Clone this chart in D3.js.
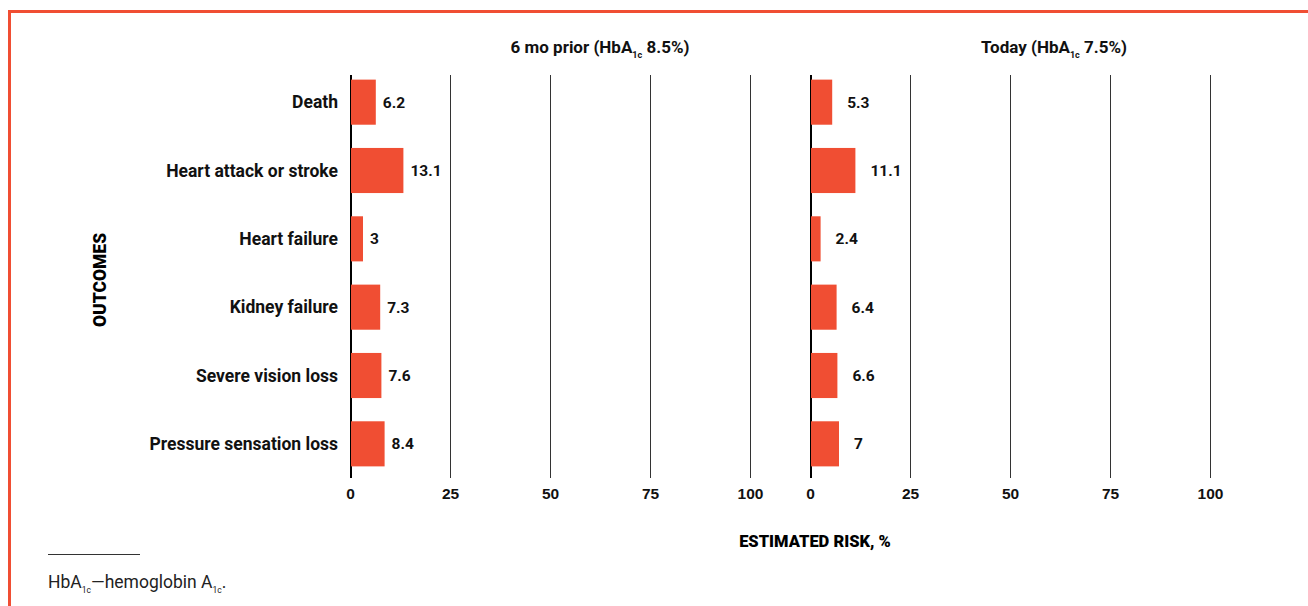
<!DOCTYPE html>
<html>
<head>
<meta charset="UTF-8">
<title>Estimated risk</title>
<style>
    body { margin: 0; background: #fff; }
    svg { display: block; font-family: Roboto, "Open Sans", sans-serif; }
    .grid line { stroke: #333; stroke-width: 1.5px; shape-rendering: crispEdges; }
    .grid .domain { display: none; }
    .grid text { font-size: 15.5px; font-weight: 700; fill: #111; }
    .cat { font-size: 17.5px; font-weight: 700; fill: #111; }
    .val { font-size: 15.5px; font-weight: 700; fill: #111; }
    .title { font-size: 17px; font-weight: 700; fill: #111; }
</style>
</head>
<body>
<script src="https://cdn.jsdelivr.net/npm/d3@7/dist/d3.min.js"></script>
<script>
    var outcomes = ["Death", "Heart attack or stroke", "Heart failure", "Kidney failure",
        "Severe vision loss", "Pressure sensation loss"];
    var prior = [6.2, 13.1, 3, 7.3, 7.6, 8.4];
    var today = [5.3, 11.1, 2.4, 6.4, 6.6, 7];
    var tickValues = [0, 25, 50, 75, 100];
    var panelTitles = [["6 mo prior (HbA", "1c", " 8.5%)"], ["Today (HbA", "1c", " 7.5%)"]];

    var width = 1308, height = 606;
    var red = "#f04e33";

    var svg = d3.select("body").append("svg")
        .attr("width", width)
        .attr("height", height);

    // frame: top and left rule
    svg.append("rect").attr("x", 8).attr("y", 10).attr("width", width - 8).attr("height", 3).attr("fill", red);
    svg.append("rect").attr("x", 8).attr("y", 10).attr("width", 3).attr("height", height - 10).attr("fill", red);

    var y = d3.scaleBand()
        .domain(outcomes)
        .range([68, 478])
        .paddingInner(0.34)
        .paddingOuter(0.17);

    var gridTop = 75, gridBottom = 478;

    var panels = [
        {values: prior, x0: 350, labelGap: 8, titleAt: 62.5, title: panelTitles[0]},
        {values: today, x0: 810, labelGap: 16, titleAt: 61, title: panelTitles[1]}
    ];

    panels.forEach(function(p) {
        var x = d3.scaleLinear().domain([0, 100]).range([p.x0, p.x0 + 400]);

        var g = svg.append("g");

        g.append("g")
            .attr("class", "grid")
            .attr("transform", `translate(0,${gridBottom})`)
            .call(d3.axisBottom(x).tickValues(tickValues).tickSize(-(gridBottom - gridTop)).tickPadding(10))
            .selectAll(".tick line")
            .style("stroke", (d) => d === 0 ? "#000" : null)
            .style("stroke-width", (d) => d === 0 ? "2px" : null);

        g.selectAll(".bar")
            .data(p.values)
            .enter().append("rect")
            .attr("class", "bar")
            .attr("x", x(0) + 1)
            .attr("y", (d, j) => y(outcomes[j]))
            .attr("width", (d) => x(d) - x(0))
            .attr("height", y.bandwidth())
            .attr("fill", red);

        g.selectAll(".val")
            .data(p.values)
            .enter().append("text")
            .attr("class", "val")
            .attr("x", (d) => x(d) + p.labelGap)
            .attr("y", (d, j) => y(outcomes[j]) + y.bandwidth() / 2)
            .attr("dy", "0.35em")
            .text((d) => d);

        var t = g.append("text")
            .attr("class", "title")
            .attr("x", x(p.titleAt))
            .attr("y", 53)
            .attr("text-anchor", "middle");
        t.append("tspan").text(p.title[0]);
        t.append("tspan").attr("dy", 5).style("font-size", "9px").text(p.title[1]);
        t.append("tspan").attr("dy", -5).text(p.title[2]);
    });

    svg.selectAll(".cat")
        .data(outcomes)
        .enter().append("text")
        .attr("class", "cat")
        .attr("x", 338)
        .attr("y", (d) => y(d) + y.bandwidth() / 2)
        .attr("dy", "0.35em")
        .attr("text-anchor", "end")
        .text((d) => d);

    svg.append("text")
        .attr("transform", "translate(106,280) rotate(-90)")
        .attr("text-anchor", "middle")
        .style("font-size", "17.5px")
        .style("font-weight", 900)
        .text("OUTCOMES");

    svg.append("text")
        .attr("x", 815)
        .attr("y", 547)
        .attr("text-anchor", "middle")
        .style("font-size", "16.5px")
        .style("font-weight", 900)
        .text("ESTIMATED RISK, %");

    // footnote
    svg.append("line")
        .attr("x1", 48).attr("x2", 140)
        .attr("y1", 554.5).attr("y2", 554.5)
        .attr("stroke", "#333");

    var foot = svg.append("text")
        .attr("x", 48)
        .attr("y", 588)
        .style("font-size", "17.5px")
        .style("fill", "#222");
    foot.append("tspan").text("HbA");
    foot.append("tspan").attr("dy", 5).style("font-size", "8.5px").text("1c");
    foot.append("tspan").attr("dy", -5).text("\u2014hemoglobin A");
    foot.append("tspan").attr("dy", 5).style("font-size", "8.5px").text("1c");
    foot.append("tspan").attr("dy", -5).text(".");
</script>
</body>
</html>
